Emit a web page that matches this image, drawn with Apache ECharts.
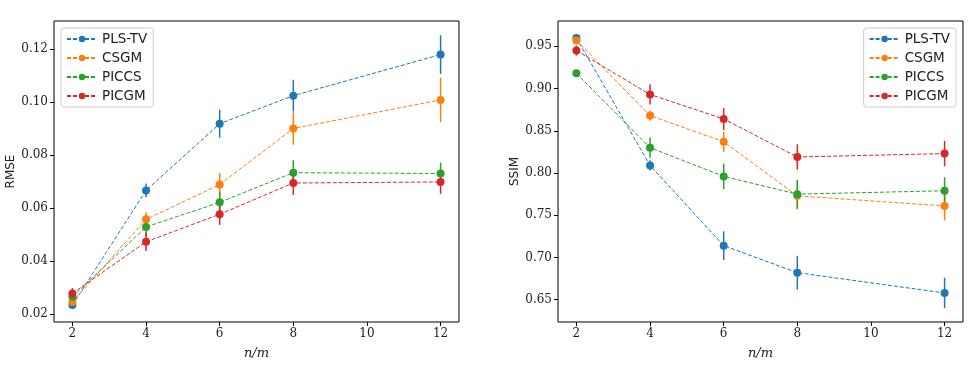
<!DOCTYPE html>
<html><head><meta charset="utf-8">
<script src="https://cdn.jsdelivr.net/npm/echarts@6/dist/echarts.min.js"></script>
<style>html,body{margin:0;padding:0;background:#fff}#c{width:975px;height:367px}</style>
</head><body><div id="c"></div>
<script>
const names = ['PLS-TV','CSGM','PICCS','PICGM'];
const colors = ['#1f77b4','#ff7f0e','#2ca02c','#d62728'];
const xs = [2,4,6,8,12];
const xTicks = [2,4,6,8,10,12];
const rmseTicks = [0.02,0.04,0.06,0.08,0.10,0.12];
const ssimTicks = [0.65,0.70,0.75,0.80,0.85,0.90,0.95];

const rmsePLSTV = [0.0234,0.0667,0.0919,0.1025,0.1180];
const rmseCSGM  = [0.0246,0.0558,0.0689,0.0901,0.1009];
const rmsePICCS = [0.0265,0.0529,0.0622,0.0734,0.0731];
const rmsePICGM = [0.0278,0.0473,0.0577,0.0695,0.0699];
const rmseErrPLSTV = [0.0010,0.0026,0.0053,0.0060,0.0073];
const rmseErrCSGM  = [0.0012,0.0027,0.0044,0.0061,0.0084];
const rmseErrPICCS = [0.0015,0.0035,0.0040,0.0047,0.0041];
const rmseErrPICGM = [0.0020,0.0035,0.0040,0.0045,0.0045];

const ssimPLSTV = [0.960,0.809,0.714,0.682,0.658];
const ssimCSGM  = [0.957,0.868,0.837,0.773,0.761];
const ssimPICCS = [0.918,0.830,0.796,0.775,0.779];
const ssimPICGM = [0.945,0.893,0.864,0.819,0.823];
const ssimErrPLSTV = [0.004,0.006,0.017,0.020,0.018];
const ssimErrCSGM  = [0.004,0.006,0.012,0.016,0.017];
const ssimErrPICCS = [0.003,0.012,0.015,0.017,0.016];
const ssimErrPICGM = [0.006,0.012,0.013,0.015,0.015];

const rmseVals = [rmsePLSTV,rmseCSGM,rmsePICCS,rmsePICGM];
const rmseErrs = [rmseErrPLSTV,rmseErrCSGM,rmseErrPICCS,rmseErrPICGM];
const ssimVals = [ssimPLSTV,ssimCSGM,ssimPICCS,ssimPICGM];
const ssimErrs = [ssimErrPLSTV,ssimErrCSGM,ssimErrPICCS,ssimErrPICGM];

const chart = echarts.init(document.getElementById('c'));
const serif = "'DejaVu Serif', serif";
const sans = "'DejaVu Sans', sans-serif";

function xAxis(gi){
  return {gridIndex:gi,type:'value',min:1.5,max:12.5,
    name:'n/m',nameLocation:'middle',nameGap:25,
    nameTextStyle:{fontFamily:serif,fontStyle:'italic',fontSize:13,color:'#222'},
    axisLine:{show:false},splitLine:{show:false},
    axisTick:{show:true,length:4,inside:false,customValues:xTicks,lineStyle:{color:'#000'}},
    axisLabel:{customValues:xTicks,fontFamily:serif,fontSize:12,color:'#222',margin:6}};
}
function yAxis(gi,name,min,max,ticks,dec){
  return {gridIndex:gi,type:'value',min:min,max:max,
    name:name,nameLocation:'middle',nameGap:gi===0?37:37,
    nameTextStyle:{fontFamily:sans,fontSize:12,color:'#222'},
    axisLine:{show:false},splitLine:{show:false},
    axisTick:{show:true,length:4,customValues:ticks,lineStyle:{color:'#000'}},
    axisLabel:{customValues:ticks,fontFamily:serif,fontSize:12,color:'#222',margin:6,
      formatter:v=>v.toFixed(dec)}};
}
const series = [];
function addSet(gi,vals,errs){
  vals.forEach((arr,i)=>{
    series.push({type:'custom',xAxisIndex:gi,yAxisIndex:gi,silent:true,z:2,
      data:xs.map((x,k)=>[x,arr[k]-errs[i][k],arr[k]+errs[i][k]]),
      encode:{x:0,y:[1,2]},
      renderItem:(p,api)=>{
        const a=api.coord([api.value(0),api.value(1)]);
        const b=api.coord([api.value(0),api.value(2)]);
        return {type:'line',shape:{x1:a[0],y1:a[1],x2:b[0],y2:b[1]},
          style:{stroke:colors[i],lineWidth:1.5}};
      }});
    series.push({type:'line',name:names[i],xAxisIndex:gi,yAxisIndex:gi,z:3,
      data:xs.map((x,k)=>[x,arr[k]]),
      symbol:'circle',symbolSize:8,showSymbol:true,
      lineStyle:{type:[4,2],width:1,color:colors[i]},
      itemStyle:{color:colors[i]}});
  });
}
addSet(0,rmseVals,rmseErrs);
addSet(1,ssimVals,ssimErrs);

function legend(pos){
  return Object.assign({data:names,orient:'vertical',itemWidth:30,itemHeight:8,itemGap:5,
    backgroundColor:'rgba(255,255,255,0.8)',borderColor:'#ccc',borderWidth:1,borderRadius:3,
    padding:[4,6,4,5],textStyle:{fontFamily:sans,fontSize:13.5,color:'#222'},
    selectedMode:false},pos);
}
chart.setOption({
  animation:false,
  color:colors,
  grid:[
    {left:54,right:516,top:21,bottom:45,show:true,borderColor:'#000',borderWidth:1,backgroundColor:'transparent'},
    {left:558,right:12,top:21,bottom:45,show:true,borderColor:'#000',borderWidth:1,backgroundColor:'transparent'}
  ],
  xAxis:[xAxis(0),xAxis(1)],
  yAxis:[yAxis(0,'RMSE',0.017,0.1307,rmseTicks,2),yAxis(1,'SSIM',0.6236,0.980,ssimTicks,2)],
  legend:[legend({left:61,top:28}),legend({right:19,top:28})],
  series:series
});
</script></body></html>
